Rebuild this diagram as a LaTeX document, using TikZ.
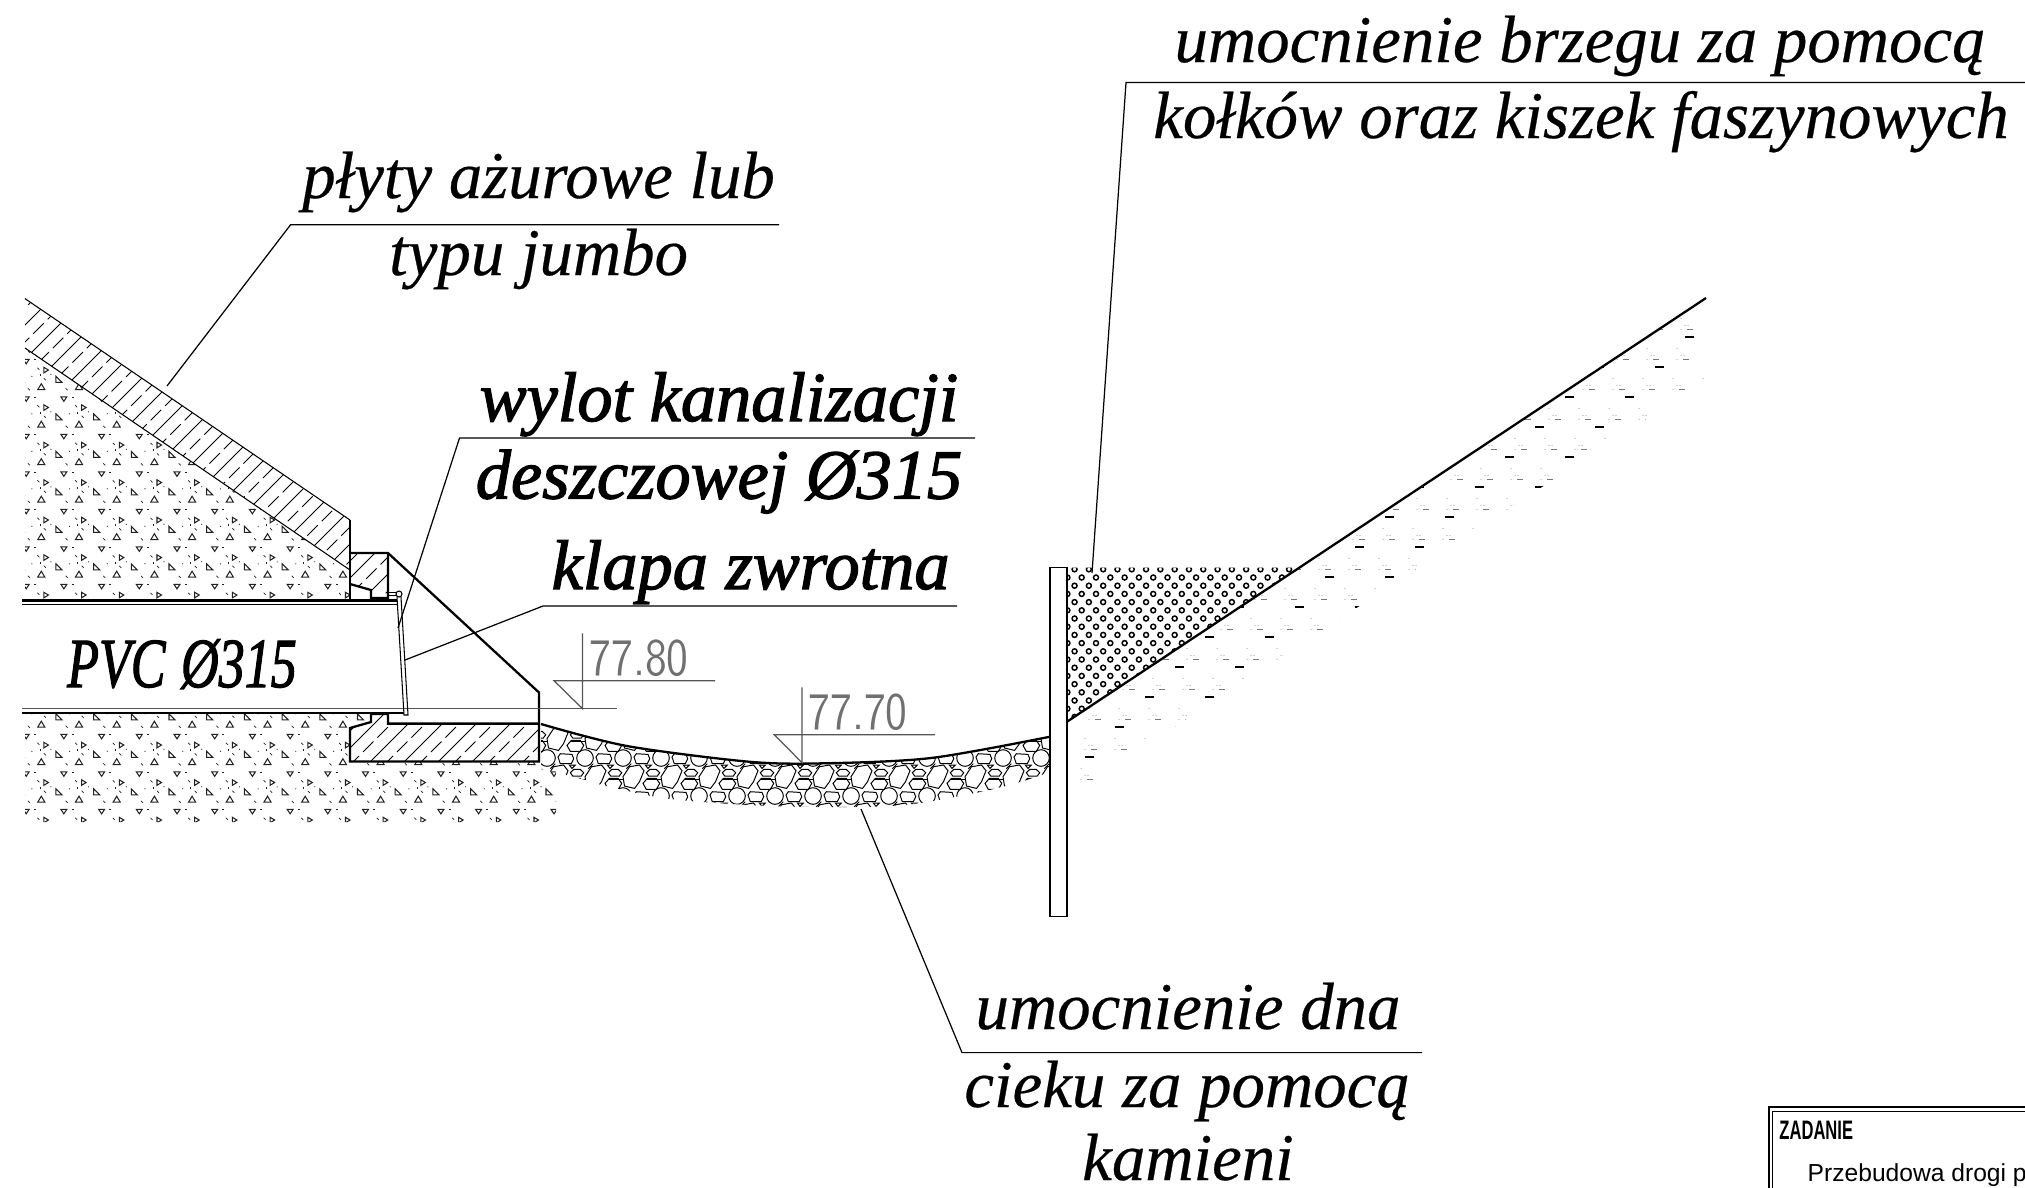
\documentclass[tikz,border=0pt]{standalone}
\usepackage{fontspec}
\usepackage{xcolor}
\usepackage{tikz}
\setmainfont{Liberation Serif}
\newfontfamily\calloutfont[FakeBold=0.35]{Liberation Serif Italic}
\newfontfamily\heavyfont[FakeBold=1.8]{Liberation Serif Italic}
\newfontfamily\blockfont{Liberation Sans}
\definecolor{levelgrey}{HTML}{555555}
\definecolor{levelfont}{HTML}{707070}
\definecolor{soilgrey}{HTML}{222222}
\definecolor{banksoil}{HTML}{777777}
\newcommand{\bedtop}{(541,724) (627,746) (749,761.7) (823.6,763.3) (931,758) (1050,736.7)}
\tikzset{
    calloutline/.style={line width=0.35pt, black},
    thickline/.style={line width=0.65pt, black},
    thinline/.style={line width=0.3pt, black},
    levelline/.style={line width=0.35pt, levelgrey},
    stone/.style={line width=0.28pt, black},
    calloutlabel/.style={anchor=base, inner sep=0pt, font=\fontsize{19}{23}\selectfont\calloutfont},
    heavylabel/.style={anchor=base, inner sep=0pt, font=\fontsize{20}{24}\selectfont\heavyfont},
    levellabel/.style={anchor=base west, inner sep=0pt, levelfont, xscale=0.84, font=\fontsize{15}{17}\selectfont\sffamily}
}

\begin{document}
\begin{tikzpicture}[x=0.01cm, y=-0.01cm]
    \useasboundingbox (0,0) rectangle (2025,1187);

    % Hatching of the slab and the two concrete blocks
    \begin{scope}
        \clip (25,298.6) -- (350,520) -- (350,570) -- (25,348) -- cycle
            (350,553) -- (388,553) -- (388,598) -- (371,598) -- (371,590) -- (350,584) -- cycle
            (350,728) -- (371,722) -- (371,714) -- (388,714) -- (388,723.6) -- (539,723.6) -- (539,761.4) -- (350,761.4) -- cycle;
        \foreach \k in {-24,...,6} {
            \pgfmathsetmacro{\c}{1132+34*\k}
            \pgfmathsetmacro{\d}{1149+34*\k}
            \draw[line width=0.27pt] ({\c-280},280) -- ({\c-780},780);
            \draw[line width=0.27pt, dash pattern=on 4.2pt off 1.6pt] ({\d-280},280) -- ({\d-780},780);
        }
    \end{scope}

    % Gravel under the slab and under the pipe
    \begin{scope}
        \clip (25,348) -- (350,570) -- (350,600) -- (25,600) -- cycle
            (25,713) -- (371,713) -- (371,722) -- (350,728) -- (350,761.4) -- (539,761.4) -- (556,772) -- (556,822) -- (25,822) -- cycle;
        \foreach \ix in {-3,...,12} {
            \foreach \iy in {-5,...,8} {
                \begin{scope}[shift={({133.3+37.7*\ix},{529.3+37.5*\iy})}]
                    \draw[thinline, soilgrey] (-2,-3) -- (-2,3) -- (4,3) -- cycle;
                    \draw[thinline, soilgrey] (-16.6,4.4) -- (-13,10.4) -- (-20.2,10.4) -- cycle;
                    \draw[thinline, soilgrey] (3,-20) -- (9,-20) -- (6,-15.5) -- cycle;
                    \draw[thinline, soilgrey] (-14,-12) -- (-14,-6.5) -- (-9.5,-9.3) -- cycle;
                    \draw[line width=0.2pt, soilgrey] (-20.5,-11.5) -- (-18.5,-9.5);
                    \draw[line width=0.2pt, soilgrey] (-18,-5) -- (-18,-3);
                    \draw[line width=0.2pt, soilgrey] (-14,-1) -- (-12,1);
                    \draw[line width=0.2pt, soilgrey] (-30,9) -- (-28,11);
                    \draw[line width=0.2pt, soilgrey] (-24,18) -- (-22,18);
                    \fill[soilgrey] (-26,-3) circle (0.6);
                    \fill[soilgrey] (-7,-5) circle (0.6);
                \end{scope}
            }
        }
    \end{scope}

    % Concrete outline of the outlet
    \draw[thinline] (25,298.6) -- (350,520);
    \draw[thinline] (25,348) -- (350,570);
    \draw[thickline] (350,520) -- (350,600);
    \draw[thickline] (350,553) -- (388,553) -- (539,692.5) -- (539,761.4) -- (350,761.4) -- (350,728) -- (371,722) -- (371,714) -- (388,714) -- (388,723.6) -- (539,723.6);
    \draw[thickline] (388,553) -- (388,598) -- (371,598) -- (371,590) -- (350,584);

    % Pipe with the flap
    \draw[thickline] (22,600.4) -- (397,600.4);
    \draw[thinline] (22,604.3) -- (397,604.3);
    \draw[levelline] (22,708.6) -- (617,708.6);
    \draw[thickline] (22,713) -- (404,713);
    \draw[thinline] (388,592.5) -- (397,592.5) (388,595.5) -- (397,595.5);
    \draw[thinline] (397,597) -- (404,715) -- (408,715) -- (401,597);
    \draw[thinline, fill=white] (399,594) circle (3);

    % Stone lining of the ditch bed
    \begin{scope}
        \clip plot[smooth] coordinates {\bedtop} -- plot[smooth] coordinates {(1050,772) (1020,782) (980,792) (913,804) (857,807) (770,806) (670,799) (602,785) (586,780) (541,769)} -- cycle;
        \foreach \ix in {-7,...,8} {
            \foreach \iy in {-1,0,1} {
                \begin{scope}[shift={({786+38*\ix},{776.7+38*\iy})}]
                    \draw[stone] (-11,0) -- (-4.5,-10) -- (5.5,-11.7) -- (10,-6) -- (5.5,5) -- (0.5,11.7) -- (-9.5,9.3) -- cycle;
                    \draw[stone] (9,6.7) -- (13.3,1.7) -- (22.3,1.7) -- (25.7,6.7) -- (22.3,12.7) -- (12.3,12.7) -- cycle;
                    \draw[stone] (12.3,-4) -- (15.7,-7.3) -- (22.3,-7.3) -- (25.7,-4) -- (23.3,-0.7) -- (14.7,-0.7) -- cycle;
                    \draw[stone] (0,18.3) -- (2.3,15) -- (14,15.7) -- (15.7,20) -- (13.3,25) -- (2.3,25) -- cycle;
                    \draw[stone] (-11,19.3) circle (8.3);
                    \draw[stone] (11.3,-11.7) -- (17.3,-11.7) -- (14,-8.3) -- cycle;
                    \draw[stone] (-26,2.7) -- (-11,2.7);
                    \draw[stone] (-7.7,30) -- (-2.7,25);
                \end{scope}
            }
        }
    \end{scope}
    \draw[thickline] plot[smooth] coordinates {\bedtop};

    % Level marks
    \draw[levelline] (582.5,633.3) -- (582.5,708.7) -- (554,680.7) -- (715,680.7);
    \node[levellabel] (level upper) at (589,675) {77.80};
    \draw[levelline] (802,687.3) -- (802,762.7) -- (774.3,734.7) -- (935,734.7);
    \node[levellabel] (level lower) at (808,729) {77.70};

    % Fill of the bank behind the sheet wall
    \begin{scope}
        \clip (1067,722) -- (1706,298) -- (1706,380) -- (1085,785) -- (1067,785) -- cycle;
        \foreach \m in {-13,...,6} {
            \pgfmathsetmacro{\yr}{629.3+30*\m}
            \pgfmathsetmacro{\xr}{mod(1230-4*\m,30)+1050}
            \pgfmathsetmacro{\xl}{mod(1239.3-30*\m,60)+1050}
            \foreach \k in {0,...,22} {
                \draw[thinline, banksoil] ({\xr+30*\k-3},\yr) -- ({\xr+30*\k+3},\yr);
                \fill[banksoil] ({\xr+30*\k-5},{\yr-4}) circle (0.5);
                \fill[banksoil] ({\xr+30*\k-2},{\yr-4}) circle (0.5);
                \fill[banksoil] ({\xr+30*\k-9},\yr) circle (0.5);
                \fill[banksoil] ({\xr+30*\k-13},{\yr+19}) circle (0.5);
            }
            \foreach \k in {0,...,11} {
                \draw[thickline] ({\xl+60*\k-4.5},{\yr+8}) -- ({\xl+60*\k+4.5},{\yr+8});
            }
        }
    \end{scope}

    % Sheet wall and circles fill
    \begin{scope}
        \clip (1067,567.7) -- (1300,567.7) -- (1067,721.7) -- cycle;
        \foreach \iy in {0,...,19} {
            \pgfmathsetmacro{\sx}{1067.4+7.15*mod(\iy+1,2)}
            \foreach \ix in {0,...,17} {
                \draw[line width=0.42pt] ({\sx+14.3*\ix},{569.3+8.2*\iy}) circle (2.5);
            }
        }
    \end{scope}
    \draw[thickline] (1067,721.7) -- (1706,298);
    \draw[thinline] (1050,567.7) rectangle (1067,916.7);

    % Callouts
    \draw[calloutline] (779,224.7) -- (290.6,224.7) -- (167,386);
    \draw[calloutline] (975,438) -- (459.5,438) -- (398,628);
    \draw[calloutline] (957,606) -- (543,606) -- (405,660);
    \draw[calloutline] (1422,1052.6) -- (962,1052.6) -- (861,809);
    \draw[calloutline] (2030,82.6) -- (1126,82.6) -- (1092,573);

    \node[calloutlabel] (slab line one) at (538.6,198) {płyty ażurowe lub};
    \node[calloutlabel] (slab line two) at (538.6,275) {typu jumbo};
    \node[heavylabel] (outlet line one) at (719,421) {wylot kanalizacji};
    \node[heavylabel] (outlet line two) at (719,498.5) {deszczowej Ø315};
    \node[heavylabel] (flap label) at (750.6,589) {klapa zwrotna};
    \node[heavylabel, xscale=0.74] (pipe label) at (182,687) {PVC\hspace{6pt}Ø315};
    \node[calloutlabel] (bed line one) at (1188,1029) {umocnienie dna};
    \node[calloutlabel] (bed line two) at (1187,1107) {cieku za pomocą};
    \node[calloutlabel] (bed line three) at (1188,1180) {kamieni};
    \node[calloutlabel] (bank line one) at (1580,62) {umocnienie brzegu za pomocą};
    \node[calloutlabel] (bank line two) at (1581,138) {kołków oraz kiszek faszynowych};

    % Corner of the title block
    \draw[thickline] (2030,1106.7) -- (1769.3,1106.7) -- (1769.3,1190);
    \draw[thinline] (2030,1111) -- (1772.5,1111) -- (1772.5,1190);
    \node[anchor=base west, inner sep=0pt, xscale=0.62, font=\fontsize{7.6}{9}\selectfont\blockfont] (block title) at (1779,1139) {\textbf{ZADANIE}};
    \node[anchor=base west, inner sep=0pt, font=\fontsize{7}{8}\selectfont\blockfont] (block text) at (1807,1181.7) {Przebudowa drogi p};
\end{tikzpicture}
\end{document}
